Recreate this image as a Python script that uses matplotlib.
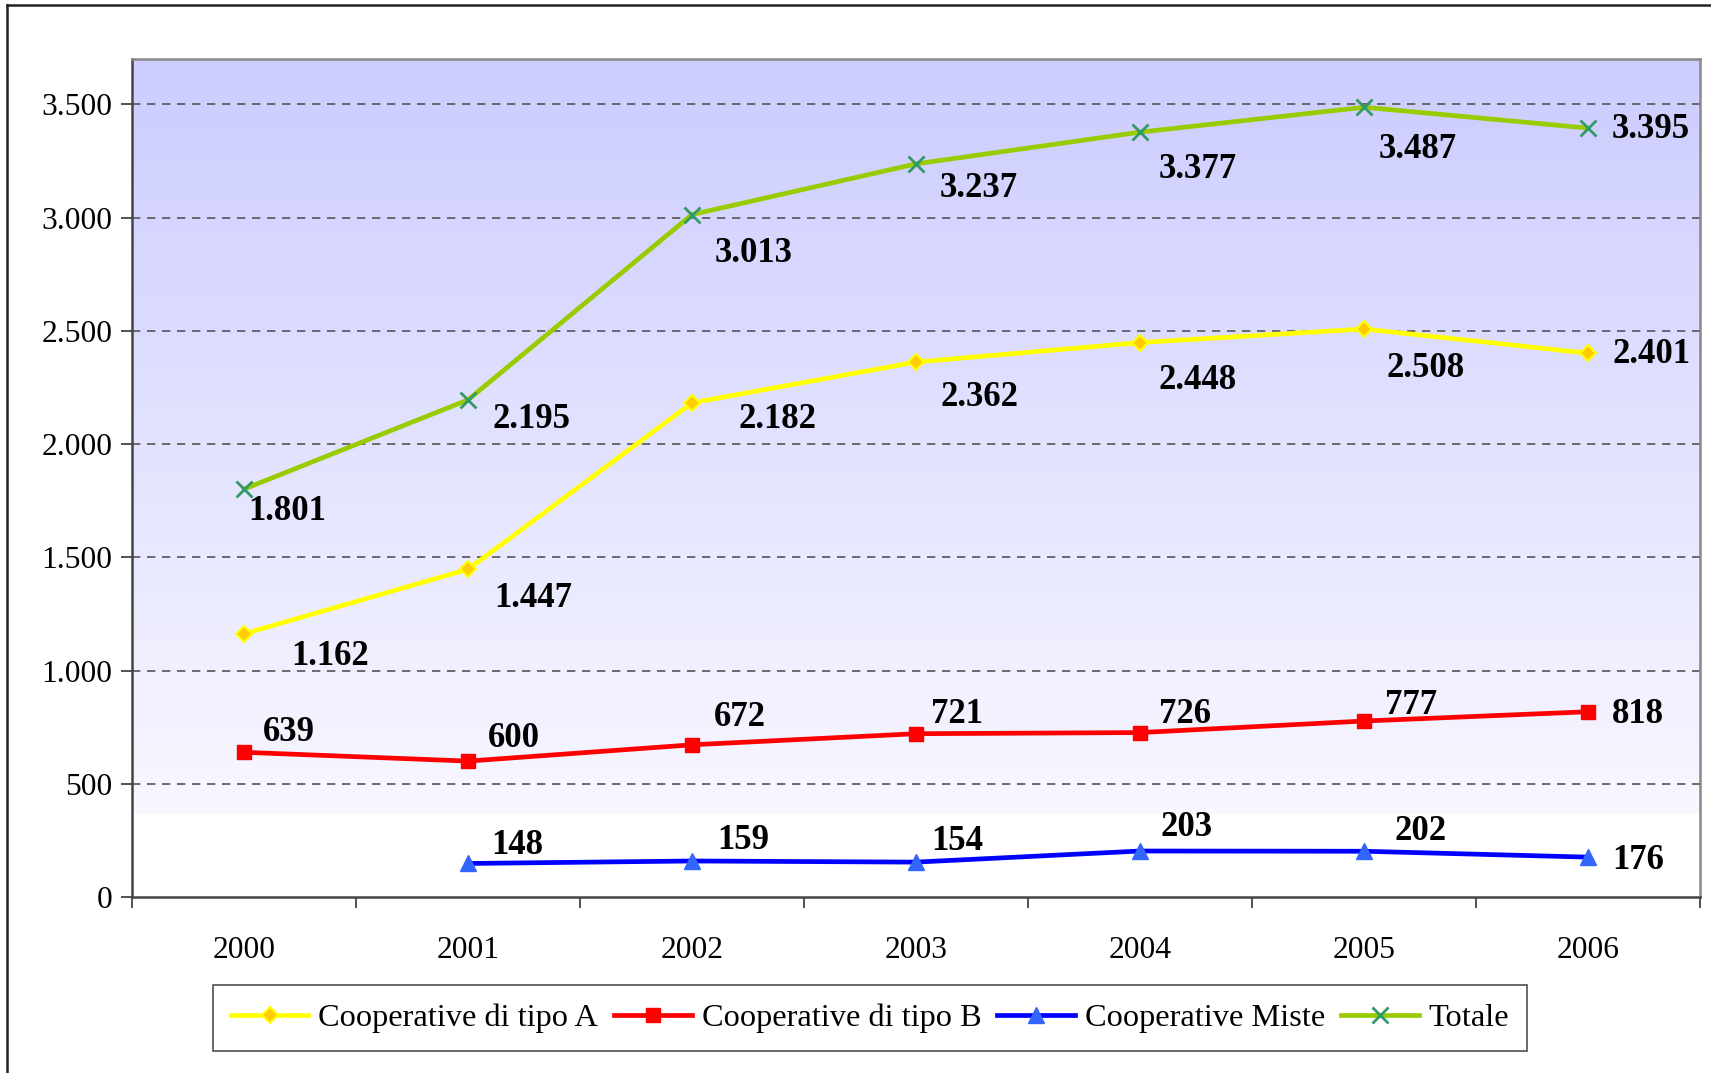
import numpy as np
import matplotlib
matplotlib.use("Agg")
import matplotlib.pyplot as plt
from matplotlib.lines import Line2D
from matplotlib.colors import LinearSegmentedColormap

plt.rcParams["font.family"] = ["Liberation Serif", "DejaVu Serif"]

# ---------- data ----------
YEARS = ["2000", "2001", "2002", "2003", "2004", "2005", "2006"]
TIPO_A = [1162, 1447, 2182, 2362, 2448, 2508, 2401]
TIPO_B = [639, 600, 672, 721, 726, 777, 818]
MISTE = [np.nan, 148, 159, 154, 203, 202, 176]
TOTALE = [1801, 2195, 3013, 3237, 3377, 3487, 3395]

# label offsets in pixels (dx right, dy down) for each point
OFF_A = [(47, 23), (26, 29), (46, 17), (24, 35), (19, 38), (22, 40), (24, 1)]
OFF_B = [(19, -20), (20, -23), (22, -27), (15, -19), (19, -18), (21, -16), (24, 3)]
OFF_M = [None, (23, -18), (25, -20), (15, -21), (21, -24), (30, -20), (24, 3)]
OFF_T = [(4, 22), (24, 20), (23, 39), (24, 25), (19, 37), (15, 42), (24, 1)]


def fmt(v):
    return f"{int(v):,}".replace(",", ".")


fig = plt.figure(figsize=(17.11, 10.73), dpi=100)
ax = fig.add_axes([132 / 1711, 1 - 897 / 1073, 1568 / 1711, 838 / 1073])

x = np.arange(len(YEARS))
ax.set_xlim(-0.5, 6.5)
ax.set_ylim(0, 3700)

# background gradient (blue at top fading to white), ends around 370
cmap = LinearSegmentedColormap.from_list("bg", ["#F8F8FF", "#CCCCFF"])
grad = np.linspace(0, 1, 256).reshape(-1, 1)
ax.imshow(grad, cmap=cmap, origin="lower", aspect="auto",
          extent=(-0.5, 6.5, 368, 3700), zorder=0)

for yv in range(500, 3501, 500):
    ax.axhline(yv, color="#555555", linestyle=(0, (5, 4)), linewidth=1.2, zorder=1)

series = [
    ("Cooperative di tipo A", TIPO_A, OFF_A,
     dict(color="#FFFF00", marker="D", markersize=8,
          markerfacecolor="#FFCC00", markeredgecolor="#FFFF00", markeredgewidth=1.5)),
    ("Cooperative di tipo B", TIPO_B, OFF_B,
     dict(color="#FF0000", marker="s", markersize=10,
          markerfacecolor="#FF0000", markeredgecolor="#FF0000")),
    ("Cooperative Miste", MISTE, OFF_M,
     dict(color="#0000FF", marker="^", markersize=12,
          markerfacecolor="#3366FF", markeredgecolor="#3366FF")),
    ("Totale", TOTALE, OFF_T,
     dict(color="#99CC00", marker="x", markersize=12,
          markeredgecolor="#339966", markeredgewidth=2)),
]

for name, vals, offs, style in series:
    ax.plot(x, vals, linewidth=3.4, label=name, zorder=3, **style)
    for xi, v, off in zip(x, vals, offs):
        if off is None or np.isnan(v):
            continue
        ax.annotate(fmt(v), (xi, v), xytext=(off[0], -off[1]),
                    textcoords="offset pixels", ha="left", va="center",
                    fontsize=25, fontweight="bold", color="black", zorder=4)

# axes styling
ax.set_yticks(range(0, 3501, 500))
ax.set_yticklabels([fmt(v) for v in range(0, 3501, 500)])
ax.set_xticks(np.arange(-0.5, 7, 1))
ax.set_xticklabels([])
ax.set_xticks(x, minor=True)
ax.set_xticklabels(YEARS, minor=True)
ax.tick_params(axis="x", which="major", direction="out", length=8, width=1.2, color="#333333")
ax.tick_params(axis="x", which="minor", length=0, pad=28, labelsize=22.7)
ax.tick_params(axis="y", direction="out", length=8, width=1.2, color="#333333",
               labelsize=22.7, pad=6)

for side in ["left", "bottom"]:
    ax.spines[side].set_color("#444444")
    ax.spines[side].set_linewidth(1.8)
for side in ["top", "right"]:
    ax.spines[side].set_color("#888888")
    ax.spines[side].set_linewidth(1.8)

leg = fig.legend(loc="center", bbox_to_anchor=(870 / 1711, 1 - 1018 / 1073), ncol=4,
                 fontsize=23.3, frameon=True, fancybox=False, handlelength=2.4,
                 columnspacing=0.5, handletextpad=0.3, borderpad=0.55)
leg.get_frame().set_edgecolor("#222222")
leg.get_frame().set_linewidth(1.2)

# outer page frame (top and left lines)
fig.add_artist(Line2D([7 / 1711, 1], [1 - 5 / 1073, 1 - 5 / 1073],
                      color="#222222", linewidth=1.8, transform=fig.transFigure))
fig.add_artist(Line2D([7 / 1711, 7 / 1711], [0, 1 - 5 / 1073],
                      color="#222222", linewidth=1.8, transform=fig.transFigure))

fig.savefig("out.png", dpi=100)
